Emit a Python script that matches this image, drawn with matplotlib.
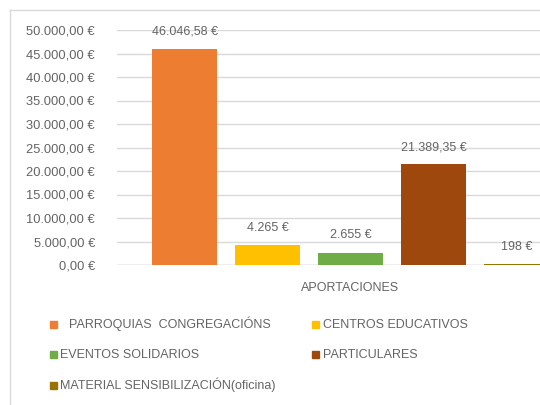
import matplotlib
matplotlib.use("Agg")
import matplotlib.pyplot as plt
from matplotlib.patches import Rectangle
from matplotlib.lines import Line2D

series = ["PARROQUIAS  CONGREGACIÓNS", "CENTROS EDUCATIVOS", "EVENTOS SOLIDARIOS",
          "PARTICULARES", "MATERIAL SENSIBILIZACIÓN(oficina)"]
values = [46046.58, 4265, 2655, 21389.35, 198]
value_labels = ["46.046,58 €", "4.265 €", "2.655 €", "21.389,35 €", "198 €"]
colors = ["#ED7D31", "#FFC000", "#70AD47", "#9E480E", "#997300"]
category = "APORTACIONES"
yticks = list(range(0, 50001, 5000))

plt.rcParams['font.family'] = ['Liberation Sans', 'DejaVu Sans']
txt = "#646464"

W, H = 540, 405
fig = plt.figure(figsize=(5.4, 4.05), dpi=100)

def fx(px): return px / W
def fy(py): return 1 - py / H

# chart frame
fig.add_artist(Line2D([fx(10), fx(10)], [fy(10), 0], color="#D9D9D9", lw=1))
fig.add_artist(Line2D([fx(10), 1], [fy(10), fy(10)], color="#D9D9D9", lw=1))

ax = fig.add_axes([fx(117), fy(265), fx(540 - 117), fy(30) - fy(265)])
pitch = 83.0
x = list(range(len(values)))
ax.bar(x, values, width=65 / pitch, color=colors, zorder=3)
ax.set_xlim(-(184.5 - 117) / pitch, (540 - 184.5) / pitch)
ax.set_ylim(0, 50000)
ax.set_yticks(yticks)
ax.set_yticklabels([f"{v:,.2f}".replace(",", "X").replace(".", ",").replace("X", ".") + " €" for v in yticks])
ax.set_xticks([(len(values) - 1) / 2])
ax.set_xticklabels([category])
ax.tick_params(axis="y", length=0, pad=16, labelsize=9.3, labelcolor=txt)
ax.tick_params(axis="x", length=0, pad=12, labelsize=9, labelcolor=txt)
ax.grid(axis="y", color="#D9D9D9", lw=1, zorder=0)
for s in ax.spines.values():
    s.set_visible(False)
ax.axhline(0, color="#D0D0D0", lw=1, zorder=2)

for xi, v, lab in zip(x, values, value_labels):
    ax.annotate(lab, (xi, v), xytext=(0, 8), textcoords="offset points",
                ha="center", va="bottom", fontsize=9, color=txt, clip_on=False)

# legend (row-wise, 2 columns): marker x, text x, row centre y (pixels)
leg_pos = [(50, 69, 324), (312, 323, 324), (50, 60, 354), (312, 323, 354), (50, 60, 385)]
for (mx, tx, ty), lab, c in zip(leg_pos, series, colors):
    fig.add_artist(Rectangle((fx(mx), fy(ty + 3.5)), fx(7), fy(0) - fy(7), color=c,
                             transform=fig.transFigure))
    fig.text(fx(tx), fy(ty + 4), lab, ha="left", va="baseline", fontsize=9, color=txt)

fig.savefig("out.png", dpi=100)
